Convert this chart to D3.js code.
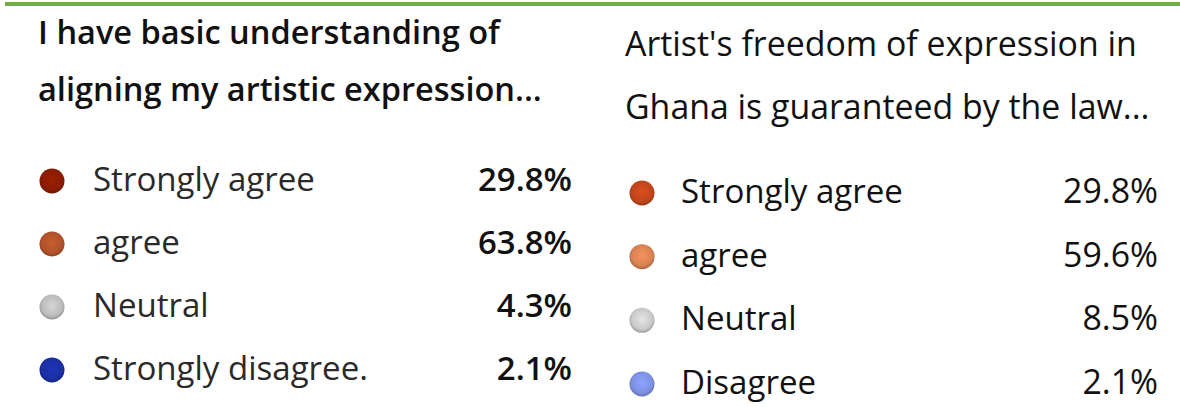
<!DOCTYPE html>
<html>
<head>
<meta charset="utf-8">
<script src="https://cdn.jsdelivr.net/npm/d3@7"></script>
<style>
  html, body { margin: 0; padding: 0; background: #fff; }
  #chart { width: 1180px; height: 407px; }
  text { font-family: "Open Sans", "Noto Sans", sans-serif; }
</style>
</head>
<body>
<div id="chart"></div>
<script>
// Data
const leftTitle = ["I have basic understanding of", "aligning my artistic expression..."];
const leftCategories = ["Strongly agree", "agree", "Neutral", "Strongly disagree."];
const leftValues = [29.8, 63.8, 4.3, 2.1];

const rightTitle = ["Artist's freedom of expression in", "Ghana is guaranteed by the law..."];
const rightCategories = ["Strongly agree", "agree", "Neutral", "Disagree"];
const rightValues = [29.8, 59.6, 8.5, 2.1];

const leftColors = ["#8a1c02", "#b0532a", "#bcbcbc", "#1b2ea3"];
const rightColors = ["#c0451a", "#d98152", "#c9c9c9", "#7c90e2"];

// Dimensions
const dimensions = { width: 1180, height: 407 };

const svg = d3
  .select("#chart")
  .append("svg")
  .attr("width", dimensions.width)
  .attr("height", dimensions.height);

const defs = svg.append("defs");

// green rule on top
svg
  .append("rect")
  .attr("x", 5)
  .attr("y", 2)
  .attr("width", dimensions.width - 5)
  .attr("height", 4)
  .attr("fill", "#70ad47");

// scale a text group so a reference string hits a target width
function fitSize(sel, target) {
  const base = 20;
  sel.style("font-size", base + "px");
  const w = sel.node().getComputedTextLength();
  return (base * target) / w;
}

function drawPanel(cfg) {
  const g = svg.append("g").attr("class", cfg.id);

  // Title
  const titleLines = g
    .selectAll("text.title")
    .data(cfg.title)
    .join("text")
    .attr("class", "title")
    .attr("x", cfg.titleX)
    .attr("y", (d, i) => cfg.titleY[i])
    .attr("fill", "#111")
    .style("font-weight", cfg.titleWeight)
    .text((d) => d);
  const tSize = fitSize(titleLines.filter((d, i) => i === 0), cfg.titleWidth);
  titleLines.style("font-size", tSize + "px");

  // Rows
  const yScale = d3
    .scalePoint()
    .domain(cfg.categories)
    .range(cfg.rowRange);

  const color = d3.scaleOrdinal().domain(cfg.categories).range(cfg.colors);

  // shaded dots, like little spheres
  cfg.categories.forEach((c, i) => {
    const base = d3.color(color(c));
    const grad = defs
      .append("radialGradient")
      .attr("id", `${cfg.id}-g${i}`)
      .attr("cx", "50%")
      .attr("cy", "45%")
      .attr("r", "55%");
    grad.append("stop").attr("offset", "0%").attr("stop-color", base.brighter(0.35));
    grad.append("stop").attr("offset", "75%").attr("stop-color", base);
    grad.append("stop").attr("offset", "100%").attr("stop-color", base.darker(0.7));
  });

  const rows = g
    .selectAll("g.row")
    .data(cfg.categories.map((c, i) => ({ c, v: cfg.values[i], i })))
    .join("g")
    .attr("class", "row")
    .attr("transform", (d) => `translate(0, ${yScale(d.c)})`);

  rows
    .append("circle")
    .attr("cx", cfg.dotX)
    .attr("cy", 0)
    .attr("r", cfg.dotR)
    .attr("fill", (d) => `url(#${cfg.id}-g${d.i})`);

  const labels = rows
    .append("text")
    .attr("x", cfg.labelX)
    .attr("y", cfg.textDy)
    .attr("fill", cfg.labelColor)
    .text((d) => d.c);
  const lSize = fitSize(labels.filter((d, i) => i === 0), cfg.labelWidth);
  labels.style("font-size", lSize + "px");

  const values = rows
    .append("text")
    .attr("x", cfg.valueX)
    .attr("y", cfg.textDy)
    .attr("text-anchor", "end")
    .attr("fill", "#111")
    .style("font-weight", cfg.valueWeight)
    .text((d) => d3.format(".1f")(d.v) + "%");
  const vSize = fitSize(values.filter((d, i) => i === 0), cfg.valueWidth);
  values.style("font-size", vSize + "px");
}

drawPanel({
  id: "left",
  title: leftTitle,
  titleX: 38,
  titleY: [44, 101],
  titleWidth: 462,
  titleWeight: 600,
  categories: leftCategories,
  values: leftValues,
  colors: leftColors,
  rowRange: [181, 370],
  dotX: 52,
  dotR: 12.5,
  labelX: 93,
  labelWidth: 222,
  labelColor: "#2a2a2a",
  valueX: 572,
  valueWidth: 94,
  valueWeight: 600,
  textDy: 10
});

drawPanel({
  id: "right",
  title: rightTitle,
  titleX: 625,
  titleY: [56, 119],
  titleWidth: 512,
  titleWeight: 500,
  categories: rightCategories,
  values: rightValues,
  colors: rightColors,
  rowRange: [193, 384],
  dotX: 642,
  dotR: 12.5,
  labelX: 681,
  labelWidth: 222,
  labelColor: "#111",
  valueX: 1158,
  valueWidth: 95,
  valueWeight: 400,
  textDy: 10
});
</script>
</body>
</html>
